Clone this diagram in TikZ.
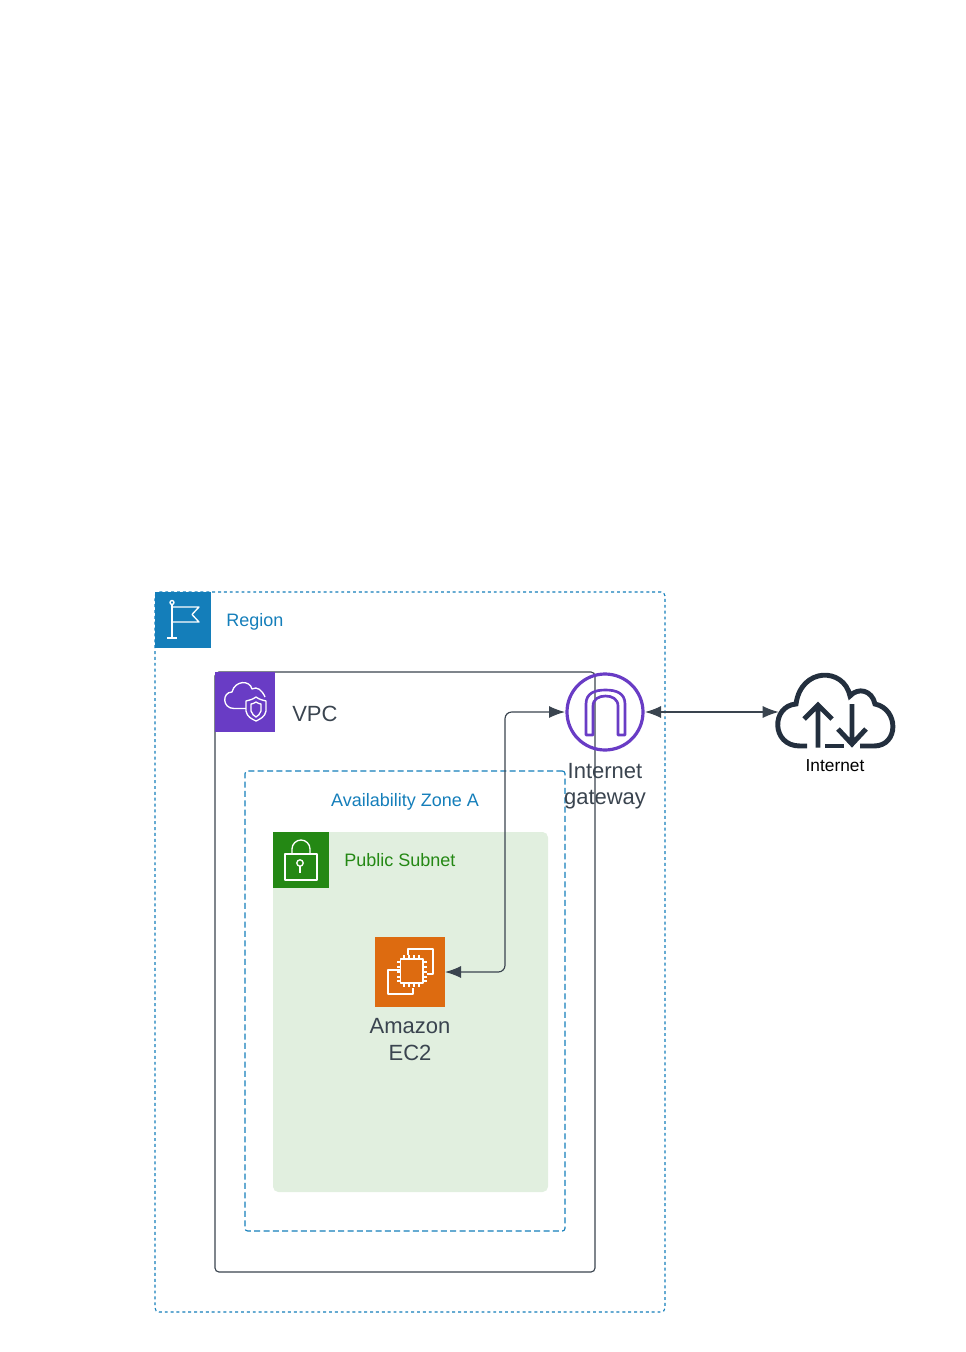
\documentclass[tikz,border=0pt]{standalone}
\usepackage{fontspec}
\setmainfont{Liberation Sans}
\usetikzlibrary{arrows.meta, positioning}
\definecolor{regionblue}{HTML}{147EBA}
\definecolor{vpcpurple}{HTML}{693CC5}
\definecolor{subnetgreen}{HTML}{248814}
\definecolor{subnetfill}{HTML}{E1EFDF}
\definecolor{ec2orange}{HTML}{DD6B10}
\definecolor{inkdark}{HTML}{232F3E}
\definecolor{textdark}{HTML}{3A444F}
\tikzset{
  regionbox/.style={ draw=regionblue, dash pattern=on 2.2pt off 2.2pt, line width=0.85pt, rounded corners=3pt, minimum width=382.5pt, minimum height=540pt }
}
\tikzset{
  vpcbox/.style={ draw=textdark, line width=0.85pt, rounded corners=3pt, minimum width=285pt, minimum height=450pt }
}
\tikzset{
  zonebox/.style={ draw=regionblue, dash pattern=on 4.5pt off 2.5pt, line width=0.85pt, rounded corners=2pt, minimum width=240pt, minimum height=345pt }
}
\tikzset{
  subnetbox/.style={ fill=subnetfill, rounded corners=4pt, minimum width=206.25pt, minimum height=270pt }
}
\tikzset{
  tile/.style={ minimum size=#1, inner sep=0pt, outer sep=0pt }
}
\tikzset{
  smalltext/.style={ font=\fontsize{13.5}{16}\selectfont, inner sep=0pt },
  bigtext/.style={ font=\fontsize{16.5}{20}\selectfont, text=textdark, align=center, inner sep=0pt },
  icon/.style={ draw=white, line width=1pt, line join=round },
  link/.style={ draw=textdark, line width=0.85pt, rounded corners=5pt, {Latex[length=12pt,width=9pt]}-{Latex[length=12pt,width=9pt]} }
}
\begin{document}
\begin{tikzpicture}[x=0.75pt, y=-0.75pt]
      \useasboundingbox (0, 0) rectangle (965, 1352);

      % the nested boxes
      \node[regionbox] (region) at (410, 952) {};
      \node[subnetbox] (subnet) at (410.5, 1012) {};
      \node[zonebox] (zone) at (405, 1001) {};
      \node[vpcbox] (vpc) at (405, 972) {};

      % tiles and their labels
      \node[tile=42pt, fill=regionblue] (flagtile) at (183, 620) {};
      \node[smalltext, text=regionblue, anchor=west] (regionlabel) at (226, 622) {Region};
      \node[tile=45pt, fill=vpcpurple] (vpctile) at (245, 702) {};
      \node[bigtext, anchor=west] (vpclabel) at (292, 714) {VPC};
      \node[smalltext, text=regionblue] (zonelabel) at (405, 802) {Availability Zone A};
      \node[tile=42pt, fill=subnetgreen] (locktile) at (301, 860) {};
      \node[smalltext, text=subnetgreen, anchor=west] (subnetlabel) at (344, 860) {Public Subnet};

      % services
      \node[tile=52.5pt, fill=ec2orange] (ec2) at (410, 972) {};
      \node[bigtext, below=8.5pt of ec2] (ec2label) {Amazon\\EC2};
      \node[draw=vpcpurple, circle, line width=2.4pt, minimum size=57pt, inner sep=0pt, outer sep=1.5pt] (igw) at (605, 712) {};
      \node[bigtext, below=8pt of igw] (igwlabel) {Internet\\gateway};
      \node[minimum width=84pt, minimum height=56pt, inner sep=0pt] (cloud) at (835, 710) {};
      \node[smalltext, font=\fontsize{13}{16}\selectfont, text=black, below=8.5pt of cloud] (cloudlabel) {Internet};

      % connectors
      \coordinate (turn) at (505, 712);
      \draw[link] (ec2.east) -- (turn |- ec2.east) -- (turn) -- (igw.west);
      \draw[link] (igw.east) -- (igw.east -| cloud.west);

      % flag
      \draw[icon] (167, 638) -- (177, 638) (172, 638) -- (172, 605);
      \draw[icon] (172, 602.5) circle (2);
      \draw[icon] (172, 607) -- (199, 607) -- (192, 614.5) -- (199, 622) -- (172, 622);

      % cloud and shield
      \draw[icon] (247, 708.5) -- (234, 708.5) .. controls (222, 708.5) and (222, 692) .. (232, 692)
        .. controls (235, 680) and (250, 680) .. (252, 689) .. controls (257, 686) and (262, 690) .. (265, 697);
      \draw[icon, fill=vpcpurple] (256, 697) .. controls (252, 700) and (249, 700) .. (246, 701) -- (246, 711)
        .. controls (247, 717) and (252, 719) .. (256, 721) .. controls (260, 719) and (265, 717) .. (266, 711) -- (266, 701)
        .. controls (263, 700) and (260, 700) .. (256, 697) -- cycle;
      \draw[icon] (256, 702) .. controls (254, 703) and (253, 704) .. (251, 704) -- (251, 711)
        .. controls (252, 714) and (254, 716) .. (256, 717) .. controls (258, 716) and (260, 714) .. (261, 711) -- (261, 704)
        .. controls (259, 704) and (258, 703) .. (256, 702) -- cycle;

      % lock
      \draw[icon] (285, 854) rectangle (317, 880);
      \draw[icon] (292, 854) -- (292, 849) arc (180:360:9) -- (310, 854);
      \draw[icon] (300, 863) circle (3.2);
      \draw[icon] (300, 866.2) -- (300, 873);

      % chip
      \draw[icon] (408, 955) -- (408, 949) -- (433, 949) -- (433, 974) -- (427, 974);
      \draw[icon] (400, 970) -- (388, 970) -- (388, 994) -- (413, 994) -- (413, 988);
      \draw[icon, fill=ec2orange] (400.5, 959) rectangle (423, 983);
      \foreach \p in {405, 410, 415, 420} {
        \draw[icon] (\p-1, 955) -- (\p-1, 959) (\p-1, 983) -- (\p-1, 987);
      }
      \foreach \p in {962, 967, 972, 977, 981} {
        \draw[icon] (397, \p) -- (400.5, \p) (423, \p) -- (426.5, \p);
      }

      % gateway arch
      \draw[vpcpurple, line width=2pt, line join=round] (586, 735) -- (586, 704) .. controls (586, 693) and (595, 690) .. (605.5, 690)
        .. controls (616, 690) and (625, 693) .. (625, 704) -- (625, 735) -- (618, 735) -- (618, 706)
        .. controls (618, 699) and (612, 696) .. (605.5, 696) .. controls (599, 696) and (593, 699) .. (593, 706) -- (593, 735) -- cycle;

      % internet cloud
      \draw[inkdark, line width=3.7pt] (807, 746) -- (800, 746) .. controls (771, 746) and (771, 706) .. (796, 704)
        .. controls (801, 667) and (844, 667) .. (850, 696) .. controls (858, 687) and (872, 690) .. (875, 704)
        .. controls (899, 709) and (899, 746) .. (874, 746) -- (860, 746);
      \draw[inkdark, line width=3.7pt] (825, 746) -- (844, 746);
      \draw[inkdark, line width=3.7pt] (818, 747.5) -- (818, 705) (804, 719) -- (818, 705) -- (832, 719);
      \draw[inkdark, line width=3.7pt] (852, 704) -- (852, 744) (838, 729) -- (852, 744) -- (866, 729);
    \end{tikzpicture}
\end{document}
